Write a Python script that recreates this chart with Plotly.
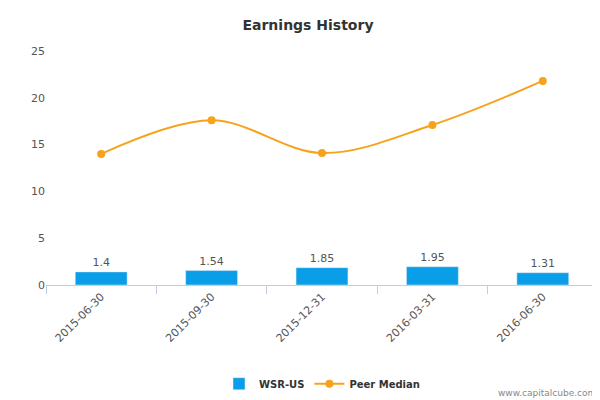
import plotly.graph_objects as go

categories = ["2015-06-30", "2015-09-30", "2015-12-31", "2016-03-31", "2016-06-30"]
wsr = [1.4, 1.54, 1.85, 1.95, 1.31]
wsr_labels = ["1.4", "1.54", "1.85", "1.95", "1.31"]
peer = [14.0, 17.6, 14.1, 17.1, 21.8]

fig = go.Figure()
fig.add_trace(go.Bar(x=categories, y=wsr, name="<b>WSR-US</b>", marker_color="#0a9de8",
                     text=wsr_labels, textposition="outside", cliponaxis=False,
                     textfont=dict(color="#555", size=11), width=0.47))
fig.add_trace(go.Scatter(x=categories, y=peer, name="<b>Peer Median</b>", mode="lines+markers",
                         line=dict(color="#f7a21b", width=2, shape="spline"),
                         marker=dict(size=8, color="#f7a21b")))
fig.update_layout(
    width=600, height=400, plot_bgcolor="white", paper_bgcolor="white",
    font=dict(family="DejaVu Sans", color="#555", size=11),
    title=dict(text="<b>Earnings History</b>", x=0.5, y=0.97, xanchor="center",
               font=dict(size=14, color="#333")),
    margin=dict(l=38, r=10, t=43, b=113),
    showlegend=True,
    legend=dict(orientation="h", x=0.5, xanchor="center", y=-0.36, yanchor="top",
                font=dict(size=10, color="#333")),
    annotations=[dict(text="www.capitalcube.com", x=1, y=-0.43, xref="paper", yref="paper",
                      xanchor="right", yanchor="top", showarrow=False,
                      font=dict(size=9, color="#888"))],
)
fig.update_xaxes(type="category", tickangle=-45, showline=True, linecolor="#c0d0e0", ticks="outside",
                 tickcolor="#c0d0e0", ticklen=8, tickson="boundaries", showgrid=False)
fig.update_yaxes(range=[0, 25], dtick=5, showgrid=False, zeroline=False, showline=False)
fig.write_html("out.html")
